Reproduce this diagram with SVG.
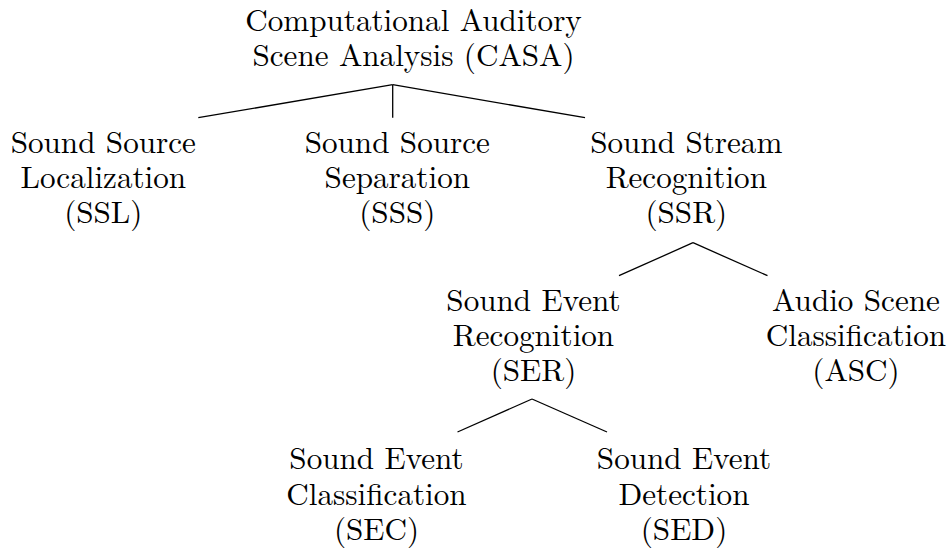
<svg xmlns="http://www.w3.org/2000/svg" width="950" height="556" viewBox="0 0 950 556">
  <style>
    text { font-family: 'Latin Modern Roman', 'CMU Serif', 'Liberation Serif', 'DejaVu Serif', serif; font-size: 31.15px; fill: #000; text-anchor: middle; }
    .edge { stroke: #000; stroke-width: 1.3; fill: none; stroke-linecap: butt; }
  </style>
  <rect width="950" height="556" fill="#fff"/>
  <g id="connectors">
    <line class="edge" x1="392.7" y1="84.7" x2="198.3" y2="117.7"/>
    <line class="edge" x1="392.7" y1="84.7" x2="392.7" y2="117.7"/>
    <line class="edge" x1="392.7" y1="84.7" x2="585" y2="117.7"/>
    <line class="edge" x1="693" y1="242.7" x2="619" y2="275.7"/>
    <line class="edge" x1="693" y1="242.7" x2="767.5" y2="275.7"/>
    <line class="edge" x1="532" y1="399" x2="457.5" y2="432"/>
    <line class="edge" x1="532" y1="399" x2="607" y2="432"/>
  </g>
  <g id="casa">
    <text><tspan x="413.5" y="31">Computational Auditory</tspan><tspan x="413.5" y="66">Scene Analysis (CASA)</tspan></text>
  </g>
  <g id="ssl">
    <text><tspan x="103.3" y="153">Sound Source</tspan><tspan x="103.3" y="188">Localization</tspan><tspan x="103.3" y="223">(SSL)</tspan></text>
  </g>
  <g id="sss">
    <text><tspan x="397.3" y="153">Sound Source</tspan><tspan x="397.3" y="188">Separation</tspan><tspan x="397.3" y="223">(SSS)</tspan></text>
  </g>
  <g id="ssr">
    <text><tspan x="686.3" y="153">Sound Stream</tspan><tspan x="686.3" y="188">Recognition</tspan><tspan x="686.3" y="223">(SSR)</tspan></text>
  </g>
  <g id="ser">
    <text><tspan x="533.5" y="311">Sound Event</tspan><tspan x="533.5" y="346">Recognition</tspan><tspan x="533.5" y="381">(SER)</tspan></text>
  </g>
  <g id="asc">
    <text><tspan x="856" y="311">Audio Scene</tspan><tspan x="856" y="346">Classification</tspan><tspan x="856" y="381">(ASC)</tspan></text>
  </g>
  <g id="sec">
    <text><tspan x="376.5" y="469">Sound Event</tspan><tspan x="376.5" y="504.5">Classification</tspan><tspan x="376.5" y="540">(SEC)</tspan></text>
  </g>
  <g id="sed">
    <text><tspan x="684" y="469">Sound Event</tspan><tspan x="684" y="504.5">Detection</tspan><tspan x="684" y="540">(SED)</tspan></text>
  </g>
</svg>
